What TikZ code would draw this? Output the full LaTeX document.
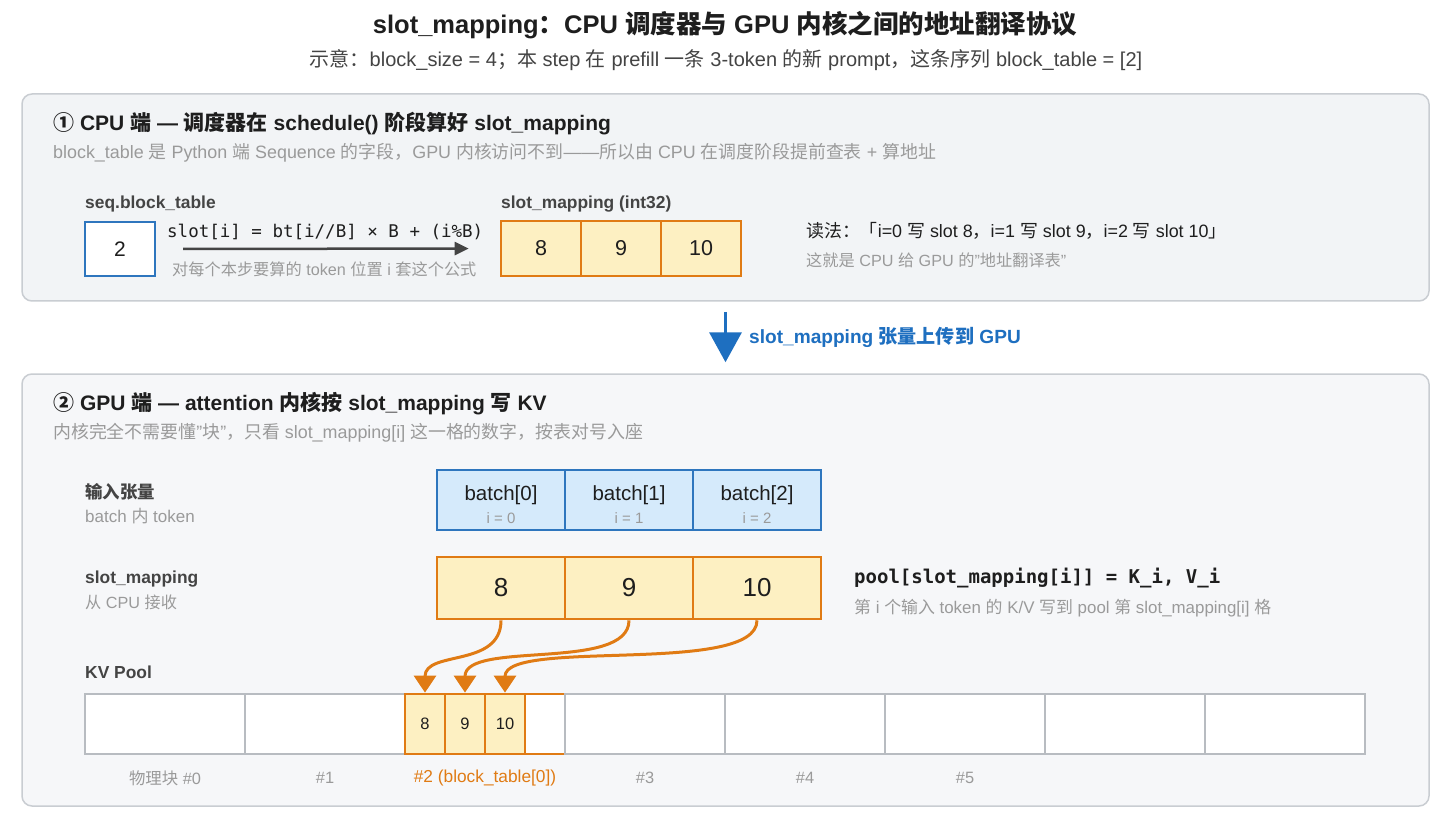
\documentclass[tikz,border=0pt]{standalone}
\usepackage{fontspec}
\setmainfont{Liberation Sans}
\newfontfamily\cjk{Noto Sans CJK SC}
\newfontfamily\monofont{DejaVu Sans Mono}
\XeTeXinterchartokenstate=1
\chardef\cjkcls=100
\newcount\cc
\def\setcls#1#2{\cc=#1\relax\loop\XeTeXcharclass\cc=\cjkcls\relax\ifnum\cc<#2\relax\advance\cc by 1\relax\repeat}
\setcls{"4E00}{"9FFF}
\setcls{"3000}{"303F}
\setcls{"FF00}{"FFEF}
\setcls{"2460}{"24FF}
\XeTeXinterchartoks 0 \cjkcls = {\begingroup\cjk}
\XeTeXinterchartoks 1 \cjkcls = {\begingroup\cjk}
\XeTeXinterchartoks 2 \cjkcls = {\begingroup\cjk}
\XeTeXinterchartoks 3 \cjkcls = {\begingroup\cjk}
\XeTeXinterchartoks 4095 \cjkcls = {\begingroup\cjk}
\XeTeXinterchartoks \cjkcls 0 = {\endgroup}
\XeTeXinterchartoks \cjkcls 1 = {\endgroup}
\XeTeXinterchartoks \cjkcls 2 = {\endgroup}
\XeTeXinterchartoks \cjkcls 3 = {\endgroup}
\XeTeXinterchartoks \cjkcls 4095 = {\endgroup}
\usetikzlibrary{arrows.meta}
\definecolor{orng}{HTML}{E07B14}
\definecolor{ylw}{HTML}{FDF0C2}
\definecolor{blu}{HTML}{2E76BE}
\definecolor{blufill}{HTML}{D5EAFB}
\definecolor{bigblue}{HTML}{1E6FC0}
\definecolor{pfill1}{HTML}{F2F4F6}
\definecolor{pfill2}{HTML}{F6F7F9}
\definecolor{pborder}{HTML}{C9CDD2}
\definecolor{dark}{HTML}{1E1E1E}
\definecolor{mid}{HTML}{444444}
\definecolor{grey}{HTML}{9A9A9A}
\definecolor{poolgray}{HTML}{B8BCC1}
\newcommand{\fs}[1]{\fontsize{#1}{#1}\selectfont}
\begin{document}
\begin{tikzpicture}[x=1pt,y=-1pt,
  txt/.style={inner sep=0pt, anchor=west},
  panel/.style={draw=pborder, line width=1.5pt, rounded corners=10pt, inner sep=0pt},
  ocell/.style={draw=orng, fill=ylw, line width=2.7pt, inner sep=0pt, text=dark},
  bcell/.style={draw=blu, fill=blufill, line width=2pt, inner sep=0pt, text=dark, minimum width=128pt, minimum height=60pt},
  poolcell/.style={draw=poolgray, fill=white, line width=2pt, inner sep=0pt, minimum width=160pt, minimum height=60pt},
  kslot/.style={draw=orng, fill=ylw, line width=2.7pt, inner sep=0pt, minimum width=40pt, minimum height=60pt, font=\fs{16.5}, text=dark},
  head/.style={txt, font=\fs{21}\bfseries, text=dark},
  sub/.style={txt, font=\fs{17.9}, text=grey},
  lab/.style={txt, font=\fs{17.4}\bfseries, text=mid},
  small/.style={txt, font=\fs{16.2}, text=grey},
  oarrow/.style={draw=orng, line width=3pt, -{Triangle[length=17pt,width=22pt]}},
]
\useasboundingbox (0,0) rectangle (1440,818);
\fill[white] (0,0) rectangle (1440,818);

% title
\node[inner sep=0pt, font=\fs{25.5}\bfseries, text=dark] (title) at (725,25) {slot\_mapping：CPU 调度器与 GPU 内核之间的地址翻译协议};
\node[inner sep=0pt, font=\fs{20}, text=mid] (subtitle) at (726,60) {示意：block\_size = 4；本 step 在 prefill 一条 3-token 的新 prompt，这条序列 block\_table = [2]};

% panels
\node[panel, fill=pfill1, minimum width=1407pt, minimum height=207pt] (cpu) at (725.5,197.5) {};
\node[panel, fill=pfill2, minimum width=1407pt, minimum height=432pt] (gpu) at (725.5,590) {};

% CPU panel
\node[head] (h1) at (53,124) {① CPU 端 — 调度器在 schedule() 阶段算好 slot\_mapping};
\node[sub] (s1) at (53,153) {block\_table 是 Python 端 Sequence 的字段，GPU 内核访问不到——所以由 CPU 在调度阶段提前查表 + 算地址};
\node[lab] (lbt) at (85,204) {seq.block\_table};
\node[draw=blu, fill=white, line width=2pt, minimum width=70pt, minimum height=54pt, inner sep=0pt, font=\fs{21}, text=dark] (bt) at (120,249) {2};
\node[txt, font=\fs{17.5}\monofont, text=dark] (formula) at (167,232) {slot[i] = bt[i//B] × B + (i\%B)};
\node[small] (fnote) at (172,269) {对每个本步要算的 token 位置 i 套这个公式};
\node[lab] (lsm) at (501,204) {slot\_mapping (int32)};
\node[ocell, minimum width=80pt, minimum height=55pt, font=\fs{21.5}] (c1) at (541,248.5) {8};
\node[ocell, minimum width=80pt, minimum height=55pt, font=\fs{21.5}] (c2) at (621,248.5) {9};
\node[ocell, minimum width=80pt, minimum height=55pt, font=\fs{21.5}] (c3) at (701,248.5) {10};
\draw[draw=mid, line width=2.5pt, -{Triangle[length=14pt,width=13pt]}, shorten <=27pt, shorten >=31pt] (bt.east) -- (c1.west);
\node[txt, font=\fs{17.9}, text=dark] (read) at (806,231) {读法：「i=0 写 slot 8，i=1 写 slot 9，i=2 写 slot 10」};
\node[small] (readnote) at (806,260) {这就是 CPU 给 GPU 的"地址翻译表"};

% big arrow
\draw[draw=bigblue, line width=3.5pt, -{Triangle[length=30pt,width=32pt]}, shorten <=10pt, shorten >=11pt] (cpu.south) -- (gpu.north);
\node[txt, font=\fs{19.1}\bfseries, text=bigblue] (uplabel) at (749,337) {slot\_mapping 张量上传到 GPU};

% GPU panel
\node[head] (h2) at (53,404) {② GPU 端 — attention 内核按 slot\_mapping 写 KV};
\node[sub] (s2) at (53,433) {内核完全不需要懂"块"，只看 slot\_mapping[i] 这一格的数字，按表对号入座};

\node[lab] (lin) at (85,492) {输入张量};
\node[small, font=\fs{17}] (lin2) at (85,516) {batch 内 token};
\foreach \i/\x in {0/501,1/629,2/757}{
  \node[bcell] (b\i) at (\x,500) {};
  \node[inner sep=0pt, font=\fs{20.5}, text=dark] at (\x,495) {batch[\i]};
  \node[inner sep=0pt, font=\fs{15}, text=grey] at (\x,518) {i = \i};
}

\node[lab] (lsm2) at (85,579) {slot\_mapping};
\node[small] (lsm3) at (85,602) {从 CPU 接收};
\node[ocell, minimum width=128pt, minimum height=62pt, font=\fs{26}] (m1) at (501,588) {8};
\node[ocell, minimum width=128pt, minimum height=62pt, font=\fs{26}] (m2) at (629,588) {9};
\node[ocell, minimum width=128pt, minimum height=62pt, font=\fs{26}] (m3) at (757,588) {10};
\node[txt, font=\fs{19}\monofont\bfseries, text=dark] (poolf) at (854,578) {pool[slot\_mapping[i]] = K\_i, V\_i};
\node[small, font=\fs{16.9}] (poolnote) at (854,608) {第 i 个输入 token 的 K/V 写到 pool 第 slot\_mapping[i] 格};

% KV pool
\node[lab] (lkv) at (85,672) {KV Pool};
\node[poolcell] (p0) at (165,724) {};
\node[poolcell] (p1) at (325,724) {};
\node[poolcell] (p2) at (485,724) {};
\node[kslot] (k0) at (425,724) {8};
\node[kslot] (k1) at (465,724) {9};
\node[kslot] (k2) at (505,724) {10};
\node[kslot, fill=white] (k3) at (545,724) {};
\node[poolcell] (p3) at (645,724) {};
\node[poolcell] (p4) at (805,724) {};
\node[poolcell] (p5) at (965,724) {};
\node[poolcell] (p6) at (1125,724) {};
\node[poolcell] (p7) at (1285,724) {};

\node[inner sep=0pt, font=\fs{16.4}, text=grey] (l0) at (165,778) {物理块 \#0};
\node[inner sep=0pt, font=\fs{16.4}, text=grey] (l1) at (325,778) {\#1};
\node[inner sep=0pt, font=\fs{17.3}, text=orng] (l2) at (485,778) {\#2 (block\_table[0])};
\node[inner sep=0pt, font=\fs{16.4}, text=grey] (l3) at (645,778) {\#3};
\node[inner sep=0pt, font=\fs{16.4}, text=grey] (l4) at (805,778) {\#4};
\node[inner sep=0pt, font=\fs{16.4}, text=grey] (l5) at (965,778) {\#5};

% mapping arrows
\draw[oarrow] (m1.south) .. controls (501,668) and (425,650) .. (k0.north);
\draw[oarrow] (m2.south) .. controls (629,672) and (465,640) .. (k1.north);
\draw[oarrow] (m3.south) .. controls (757,676) and (505,638) .. (k2.north);
\end{tikzpicture}
\end{document}
